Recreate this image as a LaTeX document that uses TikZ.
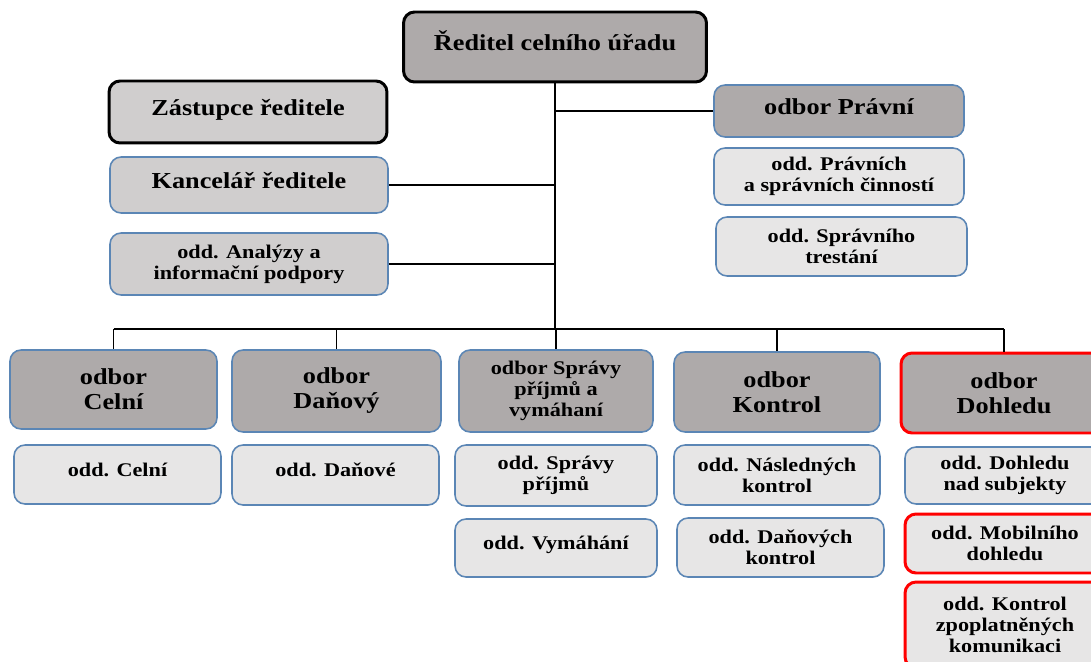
\documentclass[tikz,border=0pt]{standalone}
\usepackage{fontspec}
\setmainfont{Liberation Serif}[FakeStretch=1.15]
\usepackage{tikz}
\usetikzlibrary{calc}

\definecolor{grayd}{HTML}{AEAAAA}
\definecolor{graym}{HTML}{D0CECE}
\definecolor{grayl}{HTML}{E7E6E6}
\definecolor{bordblue}{HTML}{5B86B5}

\tikzset{
    unit/.style={rectangle, rounded corners=0.22cm, draw=bordblue, line width=0.9pt, align=center, inner sep=0pt, fill=grayl, font=\bfseries\fontsize{11}{12}\selectfont},
    big/.style={font=\bfseries\fontsize{13}{14.2}\selectfont},
    head/.style={unit, fill=grayd},
    staff/.style={unit, fill=graym, big},
    chief/.style={draw=black, line width=1.7pt},
    alert/.style={draw=red, line width=1.7pt},
    oneL/.style={text height=8pt, text depth=4.5pt},
    oneS/.style={text height=7pt, text depth=4.9pt},
    link/.style={line width=1pt}
}

\begin{document}
\begin{tikzpicture}[x=0.02cm, y=-0.02cm]
    \useasboundingbox (0,0) rectangle (1091,662);
    \clip (0,0) rectangle (1091,662);

    \node (dir) [head, big, chief, oneL, minimum width=6.06cm, minimum height=1.40cm] at (555,47) {Ředitel celního úřadu};
    \node (zast) [staff, chief, oneL, minimum width=5.56cm, minimum height=1.24cm] at (248,112) {Zástupce ředitele};
    \node (kanc) [staff, oneL, minimum width=5.56cm, minimum height=1.12cm] at (249,185) {Kancelář ředitele};
    \node (anal) [unit, fill=graym, minimum width=5.56cm, minimum height=1.24cm] at (249,264) {odd. Analýzy a\\informační podpory};

    \node (prav) [head, big, oneL, minimum width=5.00cm, minimum height=1.04cm] at (839,111) {odbor Právní};
    \node (pravcin) [unit, minimum width=5.00cm, minimum height=1.14cm] at (839,176.5) {odd. Právních\\a správních činností};
    \node (trest) [unit, minimum width=5.02cm, minimum height=1.18cm] at (841.5,246.5) {odd. Správního\\trestání};

    \node (celni) [head, big, minimum width=4.14cm, minimum height=1.58cm] at (113.5,389.5) {odbor\\Celní};
    \node (oddcel) [unit, oneS, minimum width=4.14cm, minimum height=1.18cm] at (117.5,474.5) {odd. Celní};

    \node (dan) [head, big, minimum width=4.18cm, minimum height=1.64cm] at (336.5,391) {odbor\\Daňový};
    \node (odddan) [unit, oneS, minimum width=4.14cm, minimum height=1.20cm] at (335.5,475) {odd. Daňové};

    \node (sprav) [head, minimum width=3.88cm, minimum height=1.64cm] at (556,391) {odbor Správy\\příjmů a\\vymáhaní};
    \node (oddprij) [unit, minimum width=4.04cm, minimum height=1.22cm] at (556,475.5) {odd. Správy\\příjmů};
    \node (oddvym) [unit, oneS, minimum width=4.04cm, minimum height=1.16cm] at (556,548) {odd. Vymáhání};

    \node (kontr) [head, big, minimum width=4.12cm, minimum height=1.60cm] at (777,392) {odbor\\Kontrol};
    \node (oddnasl) [unit, minimum width=4.12cm, minimum height=1.20cm] at (777,475) {odd. Následných\\kontrol};
    \node (odddank) [unit, minimum width=4.14cm, minimum height=1.18cm] at (780.5,547.5) {odd. Daňových\\kontrol};

    \node (dohl) [head, big, alert, minimum width=4.12cm, minimum height=1.60cm] at (1004,393) {odbor\\Dohledu};
    \node (odddohl) [unit, minimum width=4.00cm, minimum height=1.14cm] at (1005,475.5) {odd. Dohledu\\nad subjekty};
    \node (oddmob) [unit, alert, minimum width=4.00cm, minimum height=1.18cm] at (1005,543.5) {odd. Mobilního\\dohledu};
    \node (oddzpo) [unit, alert, minimum width=4.00cm, minimum height=1.72cm] at (1005,625) {odd. Kontrol\\zpoplatněných\\komunikaci};

    \coordinate (bus) at (555,329);
    \draw[link] (dir.south) -- (bus);
    \draw[link] (kanc.east) -- (kanc.east -| dir.south);
    \draw[link] (anal.east) -- (anal.east -| dir.south);
    \draw[link] (prav.west) -- (prav.west -| dir.south);
    \draw[link] (celni.north |- bus) -- (dohl.north |- bus);
    \foreach \n in {celni,dan,sprav,kontr,dohl}
        \draw[link] (\n.north |- bus) -- (\n.north);
\end{tikzpicture}
\end{document}
